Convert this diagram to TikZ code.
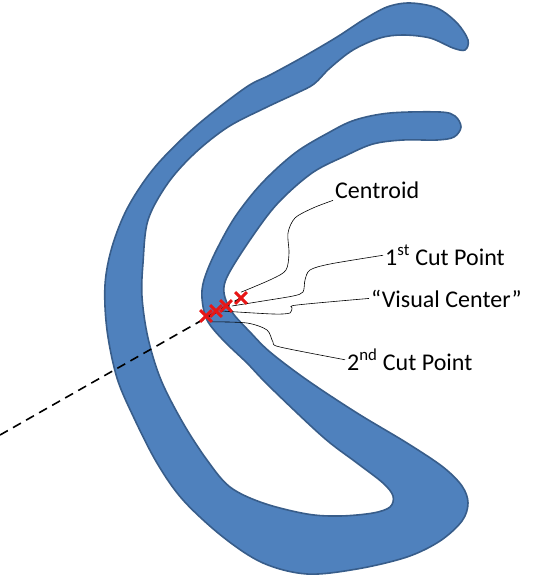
\documentclass[tikz,border=0pt]{standalone}
\usepackage{fontspec}
\setmainfont{Carlito}
\usetikzlibrary{shapes.misc}
\definecolor{shapeblue}{RGB}{79, 129, 189}
\definecolor{shapeedge}{RGB}{56, 93, 138}
\definecolor{markred}{RGB}{232, 22, 22}

\begin{document}
\begin{tikzpicture}[x=1pt, y=-1pt,
        band/.style={color=shapeedge, fill=shapeblue, line width=1.6pt},
        cutmark/.style={cross out, draw=markred, line width=2.6pt, minimum size=9pt, inner sep=0pt},
        leader/.style={black, line width=0.6pt},
        ray/.style={black, line width=1.6pt, dash pattern=on 9pt off 6pt},
        lbl/.style={anchor=base west, inner sep=2pt, font=\fontsize{24}{28}\selectfont}]
            \useasboundingbox (0,0) rectangle (537,576);
            \filldraw[band] plot[smooth cycle, tension=0.55] coordinates {
                (468,40) (457,23) (437,8) (410,3) (387,7) (363,20) (337,37) (303,57) (270,75) (245,88)
                (195,127) (155,167) (128,207) (112,247) (105,285) (107,330) (117,378) (134,418) (157,463)
                (183,500) (223,537) (263,563) (307,574) (357,569) (407,557) (440,541) (462,521) (468,503)
                (462,486) (443,467) (407,443) (357,413) (307,380) (270,352) (250,332) (232,312) (224,293)
                (228,275) (252,237) (278,203) (312,173) (345,156) (373,144) (403,140) (437,140) (454,137)
                (461,127) (455,116) (440,112) (390,113) (355,120) (328,133) (295,153) (262,183) (235,217)
                (215,253) (204,280) (202,298) (207,320) (223,340) (247,363) (270,387) (323,437) (357,463)
                (383,483) (393,496) (390,507) (373,513) (340,516) (307,514) (263,503) (230,487) (207,460)
                (183,423) (161,380) (148,338) (142,297) (143,263) (148,220) (168,183) (195,153) (228,127)
                (265,108) (297,93) (314,84) (330,68) (353,50) (380,38) (403,35) (430,38) (453,48) (465,50)};

            \node[lbl] (lblcentroid) at (333,198) {Centroid};
            \node[lbl] (lblfirst)    at (383,265) {1\textsuperscript{st} Cut Point};
            \node[lbl] (lblvisual)   at (369,307) {“Visual Center”};
            \node[lbl] (lblsecond)   at (345,370) {2\textsuperscript{nd} Cut Point};

            \coordinate (raystart) at (0,435);
            \node[cutmark] (xcentroid) at (241,298) {};
            \node[cutmark] (xfirst)    at (226,306) {};
            \node[cutmark] (xvisual)   at (216,311) {};
            \node[cutmark] (xsecond)   at (206,316) {};

            \draw[ray] (raystart) -- (xcentroid.center);
            \draw[leader] plot[smooth] coordinates {(lblcentroid.south west) (313,208) (295,218) (288,233) (289,253) (286,270) (272,279) (xcentroid.north)};
            \draw[leader] plot[smooth] coordinates {(lblfirst.west) (330,264) (310,270) (305,280) (303,292) (293,296) (263,301) (xfirst.east)};
            \draw[leader] plot[smooth] coordinates {(lblvisual.west) (297,305) (292,308) (290,313) (273,314) (xvisual.east)};
            \draw[leader] plot[smooth] coordinates {(xsecond.south east) (247,323) (267,330) (273,342) (280,347) (lblsecond.west)};

            \node[cutmark] at (xcentroid) {};
            \node[cutmark] at (xfirst) {};
            \node[cutmark] at (xvisual) {};
            \node[cutmark] at (xsecond) {};
        \end{tikzpicture}
\end{document}
